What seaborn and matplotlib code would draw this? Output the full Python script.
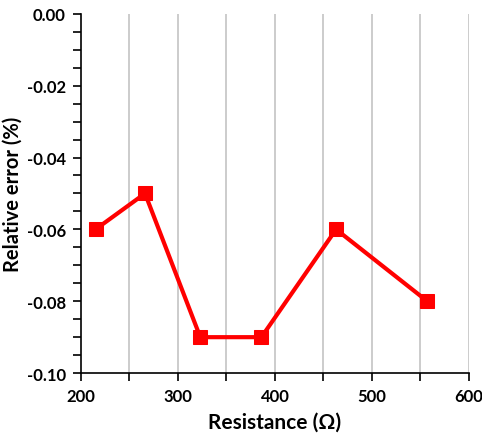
import matplotlib
matplotlib.use("Agg")
import matplotlib.pyplot as plt
import seaborn as sns
import pandas as pd
from matplotlib.ticker import MultipleLocator, FuncFormatter

resistance = [215, 266, 323, 386, 463, 557]
rel_error = [-0.06, -0.05, -0.09, -0.09, -0.06, -0.08]

df = pd.DataFrame({"Resistance": resistance, "Error": rel_error})

sns.set_style("white")
plt.rcParams['font.family'] = ['Lato', 'DejaVu Sans']
plt.rcParams['font.weight'] = 'bold'
plt.rcParams['text.color'] = 'black'
plt.rcParams['axes.labelcolor'] = 'black'
plt.rcParams['xtick.color'] = 'black'
plt.rcParams['ytick.color'] = 'black'

fig = plt.figure(figsize=(4.82, 4.35), dpi=100)
ax = fig.add_axes([0.168, 0.140, 0.805, 0.826])

for xv in range(250, 601, 50):
    ax.axvline(xv, color='#c8c8c8', lw=1.3, zorder=0)

sns.lineplot(data=df, x="Resistance", y="Error", ax=ax, color='#ff0000',
             lw=3, marker='s', markersize=10, markeredgecolor='#ff0000',
             sort=False, zorder=3)

ax.set_xlim(200, 600)
ax.set_ylim(-0.10, 0.0)
ax.xaxis.set_major_locator(MultipleLocator(100))
ax.xaxis.set_minor_locator(MultipleLocator(50))
ax.yaxis.set_major_locator(MultipleLocator(0.02))
ax.yaxis.set_minor_locator(MultipleLocator(0.005))

def yfmt(v, pos):
    s = f"{v:.2f}"
    if s == "-0.00":
        s = "0.00"
    return s
ax.yaxis.set_major_formatter(FuncFormatter(yfmt))

for s in ['top', 'right']:
    ax.spines[s].set_visible(False)
for s in ['left', 'bottom']:
    ax.spines[s].set_color('black')
    ax.spines[s].set_linewidth(1.2)

ax.tick_params(axis='both', which='major', direction='out', length=6, width=1.2,
               labelsize=12, color='black', labelcolor='black', left=True, bottom=True, pad=5)
ax.tick_params(axis='both', which='minor', direction='out', length=6, width=1.2,
               color='black', left=True, bottom=True)
for lab in ax.get_xticklabels() + ax.get_yticklabels():
    lab.set_fontweight('bold')

ax.set_xlabel("Resistance (Ω)", fontsize=15, fontweight='bold', labelpad=5, color='black')
ax.set_ylabel("Relative error (%)", fontsize=14.5, fontweight='bold', labelpad=3, color='black')

fig.savefig("out.png", dpi=100)
